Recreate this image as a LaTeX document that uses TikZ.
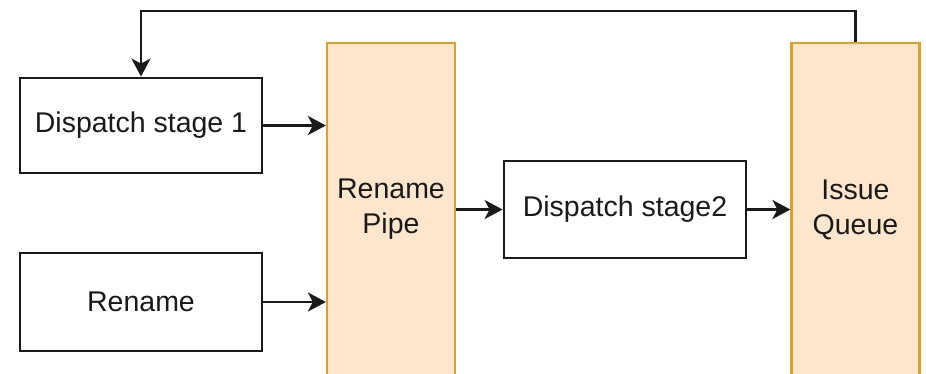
\documentclass[tikz,border=0pt]{standalone}
\usepackage{fontspec}
\setmainfont{Liberation Sans}
\usetikzlibrary{arrows.meta}
\definecolor{qfill}{HTML}{FFE6CC}
\definecolor{qline}{HTML}{DCA128}
\definecolor{ink}{HTML}{1A1A1A}
\tikzset{
  blk/.style={draw=ink, line width=2.8pt, fill=white, minimum width=242pt,
              inner sep=0pt, align=center, text=ink, font=\fontsize{28.5}{35}\selectfont},
  stagebar/.style={draw=qline, line width=2.2pt, fill=qfill, minimum width=128pt,
              minimum height=333pt, inner sep=0pt, align=center, text=ink,
              font=\fontsize{28.5}{35}\selectfont},
  arr/.style={draw=ink, line width=2.8pt, -{Stealth[length=18pt, width=19pt, inset=5pt]}},
}
\begin{document}
\begin{tikzpicture}[x=1pt, y=-1pt]
  \useasboundingbox (0,0) rectangle (926,373);
  \clip (0,0) rectangle (926,373);
  \fill[white] (0,0) rectangle (926,373);

  % pipeline stages
  \node[blk, minimum height=95pt] (ds1) at (141,125.5) {Dispatch stage 1};
  \node[blk, minimum height=98pt] (ren) at (141,302) {Rename};
  \node[stagebar] (pipe) at (391,209.5) {Rename\\Pipe};
  \node[blk, minimum height=97pt] (ds2) at (625,209.5) {Dispatch stage2};
  \node[stagebar] (iq) at (855.5,209.5) {Issue\\Queue};

  % forward connections
  \draw[arr] (ds1.east) -- (ds1.east -| pipe.west);
  \draw[arr] (ren.east) -- (ren.east -| pipe.west);
  \draw[arr] (ds2.west -| pipe.east) -- (ds2.west);
  \draw[arr] (ds2.east) -- (ds2.east -| iq.west);

  % feedback from the issue queue back to dispatch
  \coordinate (fb) at (0,11);
  \draw[arr] (iq.north) -- (iq.north |- fb) -| (ds1.north);
\end{tikzpicture}
\end{document}
